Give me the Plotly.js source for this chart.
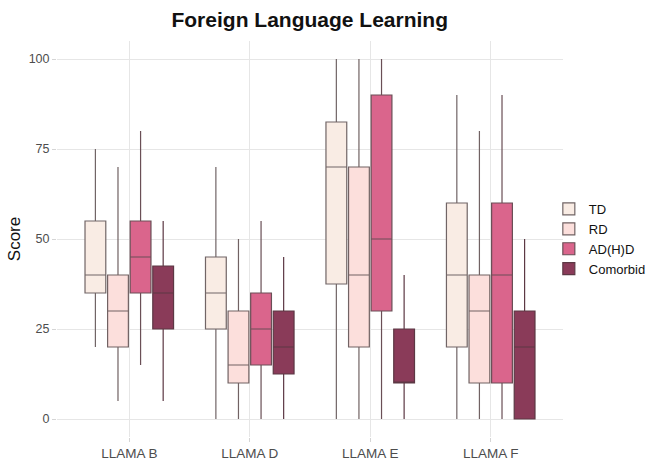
<!DOCTYPE html>
<html>
<head>
<meta charset="utf-8">
<script src="https://cdn.plot.ly/plotly-3.0.1.min.js"></script>
<style>html,body{margin:0;padding:0;background:#fff;}#chart{width:648px;height:462px;}</style>
</head>
<body>
<div id="chart"></div>
<script>
const categories = ["LLAMA B", "LLAMA D", "LLAMA E", "LLAMA F"];
const groups = ["TD", "RD", "AD(H)D", "Comorbid"];

// per group: arrays over categories
const lowerFence = {
  "TD":       [20, 0, 0, 0],
  "RD":       [5, 0, 0, 0],
  "AD(H)D":   [15, 0, 0, 0],
  "Comorbid": [5, 0, 0, 0]
};
const q1Values = {
  "TD":       [35, 25, 37.5, 20],
  "RD":       [20, 10, 20, 10],
  "AD(H)D":   [35, 15, 30, 10],
  "Comorbid": [25, 12.5, 10, 0]
};
const medianValues = {
  "TD":       [40, 35, 70, 40],
  "RD":       [30, 15, 40, 30],
  "AD(H)D":   [45, 25, 50, 40],
  "Comorbid": [35, 20, 10, 20]
};
const q3Values = {
  "TD":       [55, 45, 82.5, 60],
  "RD":       [40, 30, 70, 40],
  "AD(H)D":   [55, 35, 90, 60],
  "Comorbid": [42.5, 30, 25, 30]
};
const upperFence = {
  "TD":       [75, 70, 100, 90],
  "RD":       [70, 50, 100, 80],
  "AD(H)D":   [80, 55, 100, 90],
  "Comorbid": [55, 45, 40, 50]
};
const yTicks = [0, 25, 50, 75, 100];

const fills = {"TD": "#f9ece4", "RD": "#fcdfdc", "AD(H)D": "#da658c", "Comorbid": "#8a3b59"};
const lines = {"TD": "#716566", "RD": "#716263", "AD(H)D": "#6a4f56", "Comorbid": "#5c3844"};

const traces = groups.map(g => ({
  type: "box",
  name: g,
  x: categories,
  q1: q1Values[g],
  median: medianValues[g],
  q3: q3Values[g],
  lowerfence: lowerFence[g],
  upperfence: upperFence[g],
  fillcolor: fills[g],
  line: {color: lines[g], width: 1.2},
  whiskerwidth: 0,
  boxpoints: false,
  hoverinfo: "skip"
}));

const layout = {
  width: 648, height: 462,
  margin: {l: 57, r: 85, t: 41, b: 25, autoexpand: false},
  paper_bgcolor: "#ffffff",
  plot_bgcolor: "#ffffff",
  font: {family: "Liberation Sans, Arial, sans-serif", color: "#4d4d4d", size: 12},
  title: {text: "<b>Foreign Language Learning</b>", font: {size: 21, color: "#111"}, x: 0.478, xanchor: "center", y: 0.957, yanchor: "middle"},
  boxmode: "group",
  boxgap: 0.25,
  boxgroupgap: 0.08,
  xaxis: {
    type: "category",
    range: [-0.6, 3.6],
    showgrid: true, gridcolor: "#e6e6e6", gridwidth: 1,
    zeroline: false, showline: false,
    ticks: "outside", ticklen: 4, tickcolor: "#d5d5d5",
    tickfont: {size: 13.5, color: "#4d4d4d"}
  },
  yaxis: {
    range: [-5, 105],
    tickvals: yTicks,
    ticktext: yTicks.map(String),
    showgrid: true, gridcolor: "#e6e6e6", gridwidth: 1,
    zeroline: false, showline: false,
    ticks: "outside", ticklen: 4, tickcolor: "#d5d5d5",
    tickfont: {size: 12.5, color: "#4d4d4d"},
    title: {text: "Score", font: {size: 17, color: "#111"}, standoff: 3}
  },
  showlegend: true,
  legend: {x: 0.972, xanchor: "left", y: 0.5, yanchor: "middle", font: {size: 13, color: "#111"}, tracegroupgap: 0, itemwidth: 30, bgcolor: "rgba(0,0,0,0)"}
};

Plotly.newPlot("chart", traces, layout, {displayModeBar: false, staticPlot: true});
</script>
</body>
</html>
